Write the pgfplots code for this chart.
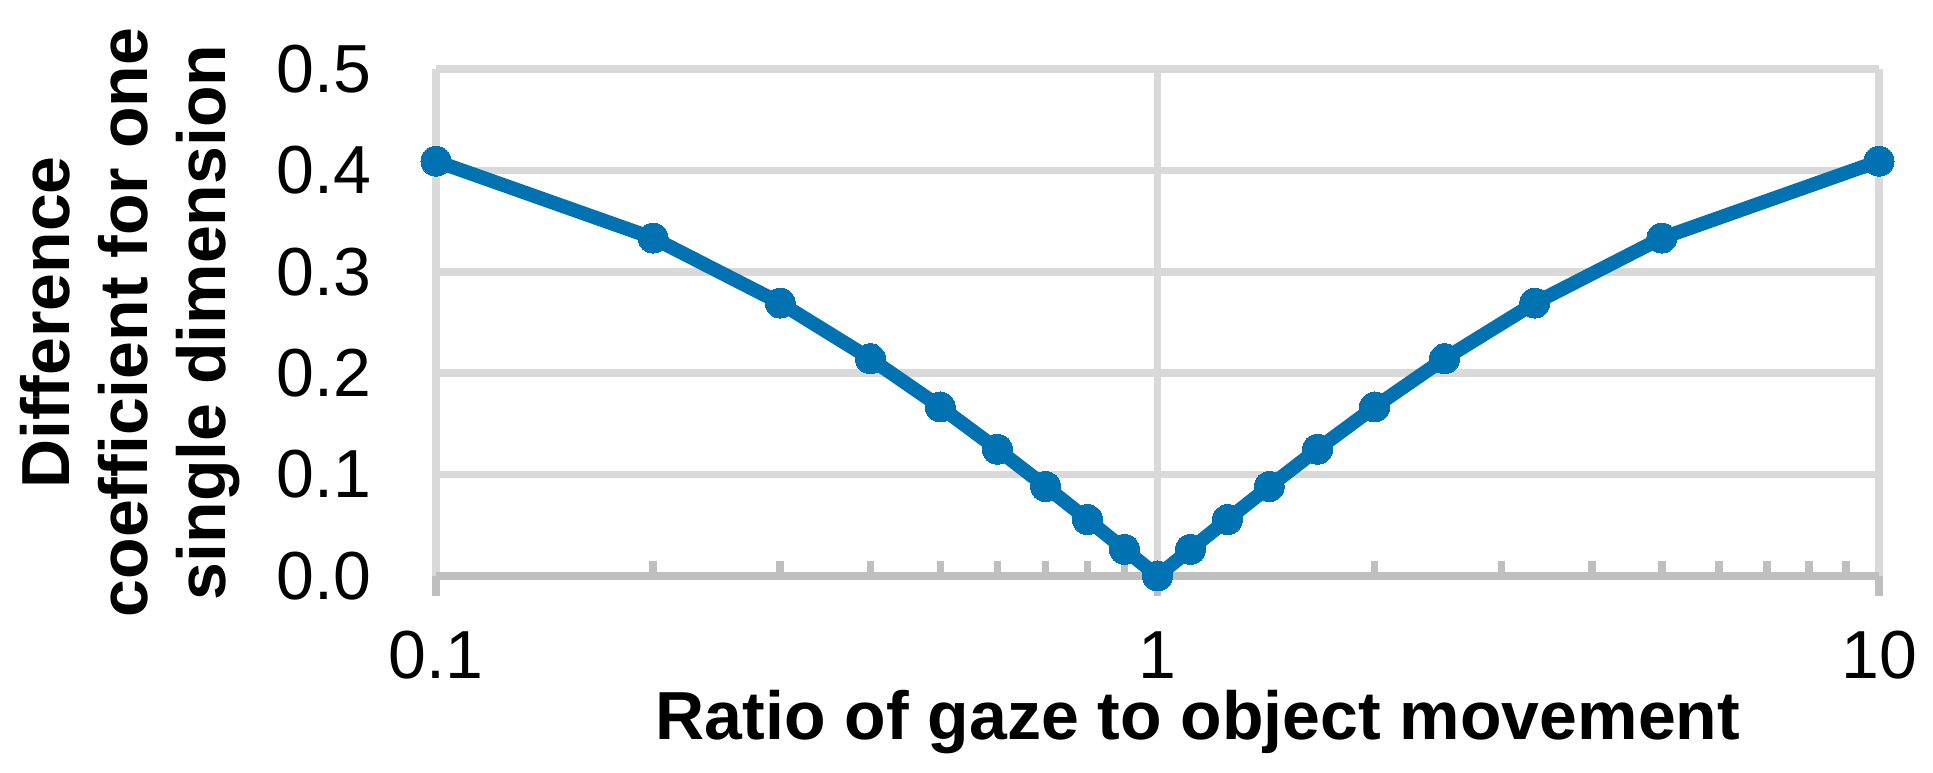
\documentclass[border=0pt]{standalone}
\usepackage{pgfplots}
\pgfplotsset{compat=1.18}
\usepackage{fontspec}
\setmainfont{Liberation Sans}
\definecolor{gridgray}{HTML}{D9D9D9}
\definecolor{axisgray}{HTML}{BFBFBF}
\definecolor{lineblue}{HTML}{0072B2}

\begin{document}
\begin{tikzpicture}
\useasboundingbox (-87.2pt,-39.4pt) rectangle (299.4pt,115.2pt);
\begin{axis}[
    at={(0pt,0pt)}, anchor=south west,
    scale only axis, width=288.6pt, height=101.4pt,
    xmode=log, xmin=0.1, xmax=10, ymin=0, ymax=0.5,
    clip=false,
    xtick={0.1,1,10}, xticklabels={0.1,1,10},
    minor xtick={0.2,0.3,0.4,0.5,0.6,0.7,0.8,0.9,2,3,4,5,6,7,8,9},
    ytick={0,0.1,0.2,0.3,0.4,0.5}, yticklabels={0.0,0.1,0.2,0.3,0.4,0.5},
    axis x line*=bottom, axis y line*=left,
    x axis line style={draw=axisgray, line width=1.5pt, -},
    y axis line style={draw=none},
    grid=major, major grid style={draw=gridgray, line width=1.5pt},
    tick align=inside, major tick length=-4pt, minor tick length=3pt,
    xtick style={draw=axisgray, line width=1.5pt},
    ytick style={draw=none},
    /pgf/number format/assume math mode=true,
    ticklabel style={font=\fontsize{13.6}{16}\selectfont, inner sep=0pt},
    xticklabel style={anchor=center, yshift=-15.8pt},
    yticklabel style={anchor=east, xshift=-12.8pt},
    xlabel={Ratio of gaze to object movement},
    xlabel style={at={(axis description cs:0.528,-0.3235)}, anchor=base,
        font=\bfseries\fontsize{13.6}{15.6}\selectfont, inner sep=0pt},
    ylabel={Difference\\coefficient for one\\single dimension},
    ylabel style={at={(axis description cs:-0.1351,0.5)}, anchor=south, rotate=0,
        align=center, font=\bfseries\fontsize{13.6}{15.6}\selectfont, inner sep=0pt},
]
\addplot[color=lineblue, line width=2.8pt, line join=round, mark=*, mark size=3pt,
    mark options={solid, fill=lineblue, line width=0pt}] coordinates {
    (0.1,0.4091) (0.2,0.3333) (0.3,0.2692) (0.4,0.2143) (0.5,0.1667)
    (0.6,0.125) (0.7,0.0882) (0.8,0.0556) (0.9,0.0263) (1,0)
    (1.1111,0.0263) (1.25,0.0556) (1.4286,0.0882) (1.6667,0.125) (2,0.1667)
    (2.5,0.2143) (3.3333,0.2692) (5,0.3333) (10,0.4091)
};
\end{axis}
\end{tikzpicture}
\end{document}
